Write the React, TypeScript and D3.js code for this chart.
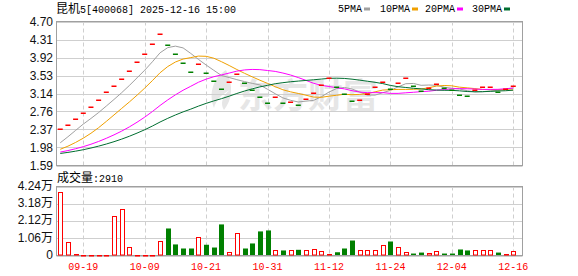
import React from 'react';
import * as d3 from 'd3';

const dates = [
  '09-16','09-17','09-18','09-19','09-22','09-23','09-24','09-25','09-26','09-29','09-30',
  '10-09','10-10','10-13','10-14','10-15','10-16','10-17','10-20','10-21','10-22','10-23','10-24','10-27','10-28','10-29','10-30','10-31',
  '11-03','11-04','11-05','11-06','11-07','11-10','11-11','11-12','11-13','11-14','11-17','11-18','11-19','11-20','11-21','11-24',
  '11-25','11-26','11-27','11-28','12-01','12-02','12-03','12-04',
  '12-05','12-08','12-09','12-10','12-11','12-12','12-15','12-16'
];

const closes = [
  2.37,2.47,2.60,2.73,2.86,3.01,3.17,3.31,3.46,3.64,
  3.83,4.00,4.22,4.43,4.20,3.99,3.81,3.62,3.79,3.59,
  3.42,3.25,3.40,3.56,3.38,3.23,3.08,2.93,3.08,2.93,
  2.97,2.90,3.02,3.16,3.32,3.48,3.28,3.14,2.99,3.00,
  3.14,3.28,3.40,3.24,3.38,3.48,3.31,3.20,3.27,3.35,
  3.27,3.21,3.11,3.09,3.22,3.29,3.29,3.18,3.24,3.31
];

// closes of the 29 sessions before the first visible one (for the moving averages)
const preCloses = [
  1.78,1.80,1.79,1.77,1.78,1.80,1.81,1.79,1.78,1.80,
  1.82,1.81,1.83,1.82,1.80,1.81,1.83,1.84,1.82,1.82,
  1.80,1.79,1.81,1.80,1.80,1.82,1.91,2.05,2.25
];

// volume in 万
const volumes = [
  3.89,0.86,0.10,0.02,0.02,0.02,0.02,2.44,2.87,0.51,
  0.02,0.02,0.03,0.90,1.66,0.68,0.43,0.43,1.15,0.66,
  0.49,1.91,0.23,1.41,0.43,0.74,1.48,1.54,0.35,0.31,
  0.31,0.35,0.31,0.41,0.25,0.12,0.20,0.43,0.92,0.35,
  0.35,0.35,0.66,0.86,0.53,0.23,0.12,0.18,0.18,0.25,
  0.12,0.12,0.37,0.31,0.31,0.31,0.31,0.18,0.12,0.291
];

const priceTicks = [4.70,4.31,3.92,3.53,3.14,2.76,2.37,1.98,1.59];
const priceTickLabels = ['4.70','4.31','3.92','3.53','3.14','2.76','2.37','1.98','1.59'];
const volTicks = [4.24,3.18,2.12,1.06,0];
const volTickNums = ['4.24','3.18','2.12','1.06','0'];
const dateTickIdx = [3,11,19,27,35,43,51,59];

const maPeriods = [5,10,20,30];
const maNames = ['5PMA','10PMA','20PMA','30PMA'];
const maColors = ['#a0a0a0','#f0a000','#ff00ff','#006e30'];

const RED = '#ff0000';
const GREEN = '#008000';
const MONO = '"Liberation Mono", "DejaVu Sans Mono", monospace';
const SANS = '"Liberation Sans", Arial, sans-serif';
const CJK = '"Noto Sans CJK SC", sans-serif';

export default function App() {
  const W = 578, H = 276;
  const L = 56.5, R = 522.5;
  const pTop = 21.5, pBot = 165.5;
  const vTop = 186.5, vBot = 255.5;

  const x = d3.scaleBand<number>().domain(d3.range(closes.length)).range([56.4, 517.1]).padding(0);
  const cx = (i: number) => (x(i) as number) + x.bandwidth() / 2;
  const yP = d3.scaleLinear().domain([1.59, 4.70]).range([pBot, pTop]);
  const yV = d3.scaleLinear().domain([0, 4.24]).range([vBot, vTop]);

  const all = preCloses.concat(closes);
  const off = preCloses.length;
  const mas = maPeriods.map(n =>
    closes.map((_, i) => d3.mean(all.slice(off + i - n + 1, off + i + 1)) as number)
  );
  const up = closes.map((c, i) => (i === 0 ? true : c >= closes[i - 1]));

  const line = d3.line<number>().x((_, i) => cx(i)).y(d => yP(d));

  const gridColor = '#cfcfcf';
  const borderColor = '#a0a0a0';

  return (
    <svg width={W} height={H} style={{ position: 'absolute', left: 0, top: 0, background: '#fff' }}>
      {/* title */}
      <text x={56} y={12.5} fontSize={10} fill="#000">
        <tspan fontFamily={CJK} fontSize={12}>昆机</tspan>
        <tspan fontFamily={MONO}>5[400068] 2025-12-16 15:00</tspan>
      </text>
      {/* legend */}
      {maNames.map((n, k) => {
        const starts = [338, 380, 425, 472];
        const len = n.length * 6;
        return (
          <g key={n}>
            <text x={starts[k]} y={12} fontFamily={MONO} fontSize={10} fill="#000">{n}</text>
            <rect x={starts[k] + len + 2} y={7.5} width={6} height={3} fill={maColors[k]} />
          </g>
        );
      })}

      {/* watermark */}
      <g fill="#e6e6e6">
        <path d="M226,70 C214,78 208,92 214,108 C216,100 222,94 230,90 C222,96 220,104 224,110 C232,100 234,86 226,70 Z" />
        <text x={238} y={108} fontFamily={CJK} fontWeight={700} fontSize={34} textLength={140} lengthAdjust="spacingAndGlyphs">东方财富</text>
      </g>

      {/* price grid */}
      {priceTicks.map((t, k) => (
        <line key={'pg' + k} x1={L} x2={R} y1={Math.round(yP(t)) + 0.5} y2={Math.round(yP(t)) + 0.5} stroke={gridColor} />
      ))}
      {dateTickIdx.map(i => (
        <line key={'pv' + i} x1={Math.round(cx(i)) + 0.5} x2={Math.round(cx(i)) + 0.5} y1={pTop} y2={pBot} stroke={gridColor} strokeDasharray="4,3" />
      ))}
      {/* volume grid */}
      {volTicks.map((t, k) => (
        <line key={'vg' + k} x1={L} x2={R} y1={Math.round(yV(t)) + 0.5} y2={Math.round(yV(t)) + 0.5} stroke={gridColor} />
      ))}
      {dateTickIdx.map(i => (
        <line key={'vv' + i} x1={Math.round(cx(i)) + 0.5} x2={Math.round(cx(i)) + 0.5} y1={vTop} y2={vBot} stroke={gridColor} strokeDasharray="4,3" />
      ))}

      {/* borders */}
      <rect x={L} y={pTop} width={R - L} height={pBot - pTop} fill="none" stroke={borderColor} />
      <rect x={L} y={vTop} width={R - L} height={vBot - vTop} fill="none" stroke={borderColor} />

      {/* MA lines */}
      {mas.map((m, k) => (
        <path key={'ma' + k} d={line(m) as string} fill="none" stroke={maColors[k]} strokeWidth={1} />
      ))}

      {/* price dashes */}
      {closes.map((c, i) => (
        <rect key={'c' + i} x={cx(i) - 2.5} y={Math.round(yP(c)) - 0.5} width={5} height={1.5} fill={up[i] ? RED : GREEN} />
      ))}

      {/* volume bars */}
      {volumes.map((v, i) => {
        const top = yV(v);
        const h = Math.max(vBot - 0.5 - top, 0);
        return up[i] ? (
          <rect key={'v' + i} x={Math.round(cx(i)) - 2 + 0.5} y={Math.round(top) + 0.5} width={4} height={Math.max(Math.round(vBot - 0.5 - top) - 0.5, 0.5)} fill="#fff" stroke={RED} strokeWidth={1} />
        ) : (
          <rect key={'v' + i} x={Math.round(cx(i)) - 2} y={top} width={5} height={h} fill={GREEN} />
        );
      })}

      {/* price axis labels */}
      {priceTicks.map((t, k) => (
        <text key={'pl' + k} x={53} y={yP(t)} dy="0.36em" textAnchor="end" fontFamily={SANS} fontSize={12} fill="#111">{priceTickLabels[k]}</text>
      ))}
      {/* volume axis labels */}
      {volTicks.map((t, k) => (
        <text key={'vl' + k} x={53} y={yV(t) - 1} dy="0.36em" textAnchor="end" fontSize={12} fill="#111">
          <tspan fontFamily={SANS}>{volTickNums[k]}</tspan>
          {t > 0 ? <tspan fontFamily={CJK}>万</tspan> : null}
        </text>
      ))}
      {/* volume title */}
      <text x={57} y={182} fill="#000">
        <tspan fontFamily={CJK} fontSize={12}>成交量</tspan>
        <tspan fontFamily={MONO} fontSize={10}>:2910</tspan>
      </text>
      {/* date labels */}
      {dateTickIdx.map(i => (
        <text key={'dl' + i} x={cx(i)} y={270} textAnchor="middle" fontFamily={MONO} fontSize={10} fill={RED}>{dates[i]}</text>
      ))}
    </svg>
  );
}
